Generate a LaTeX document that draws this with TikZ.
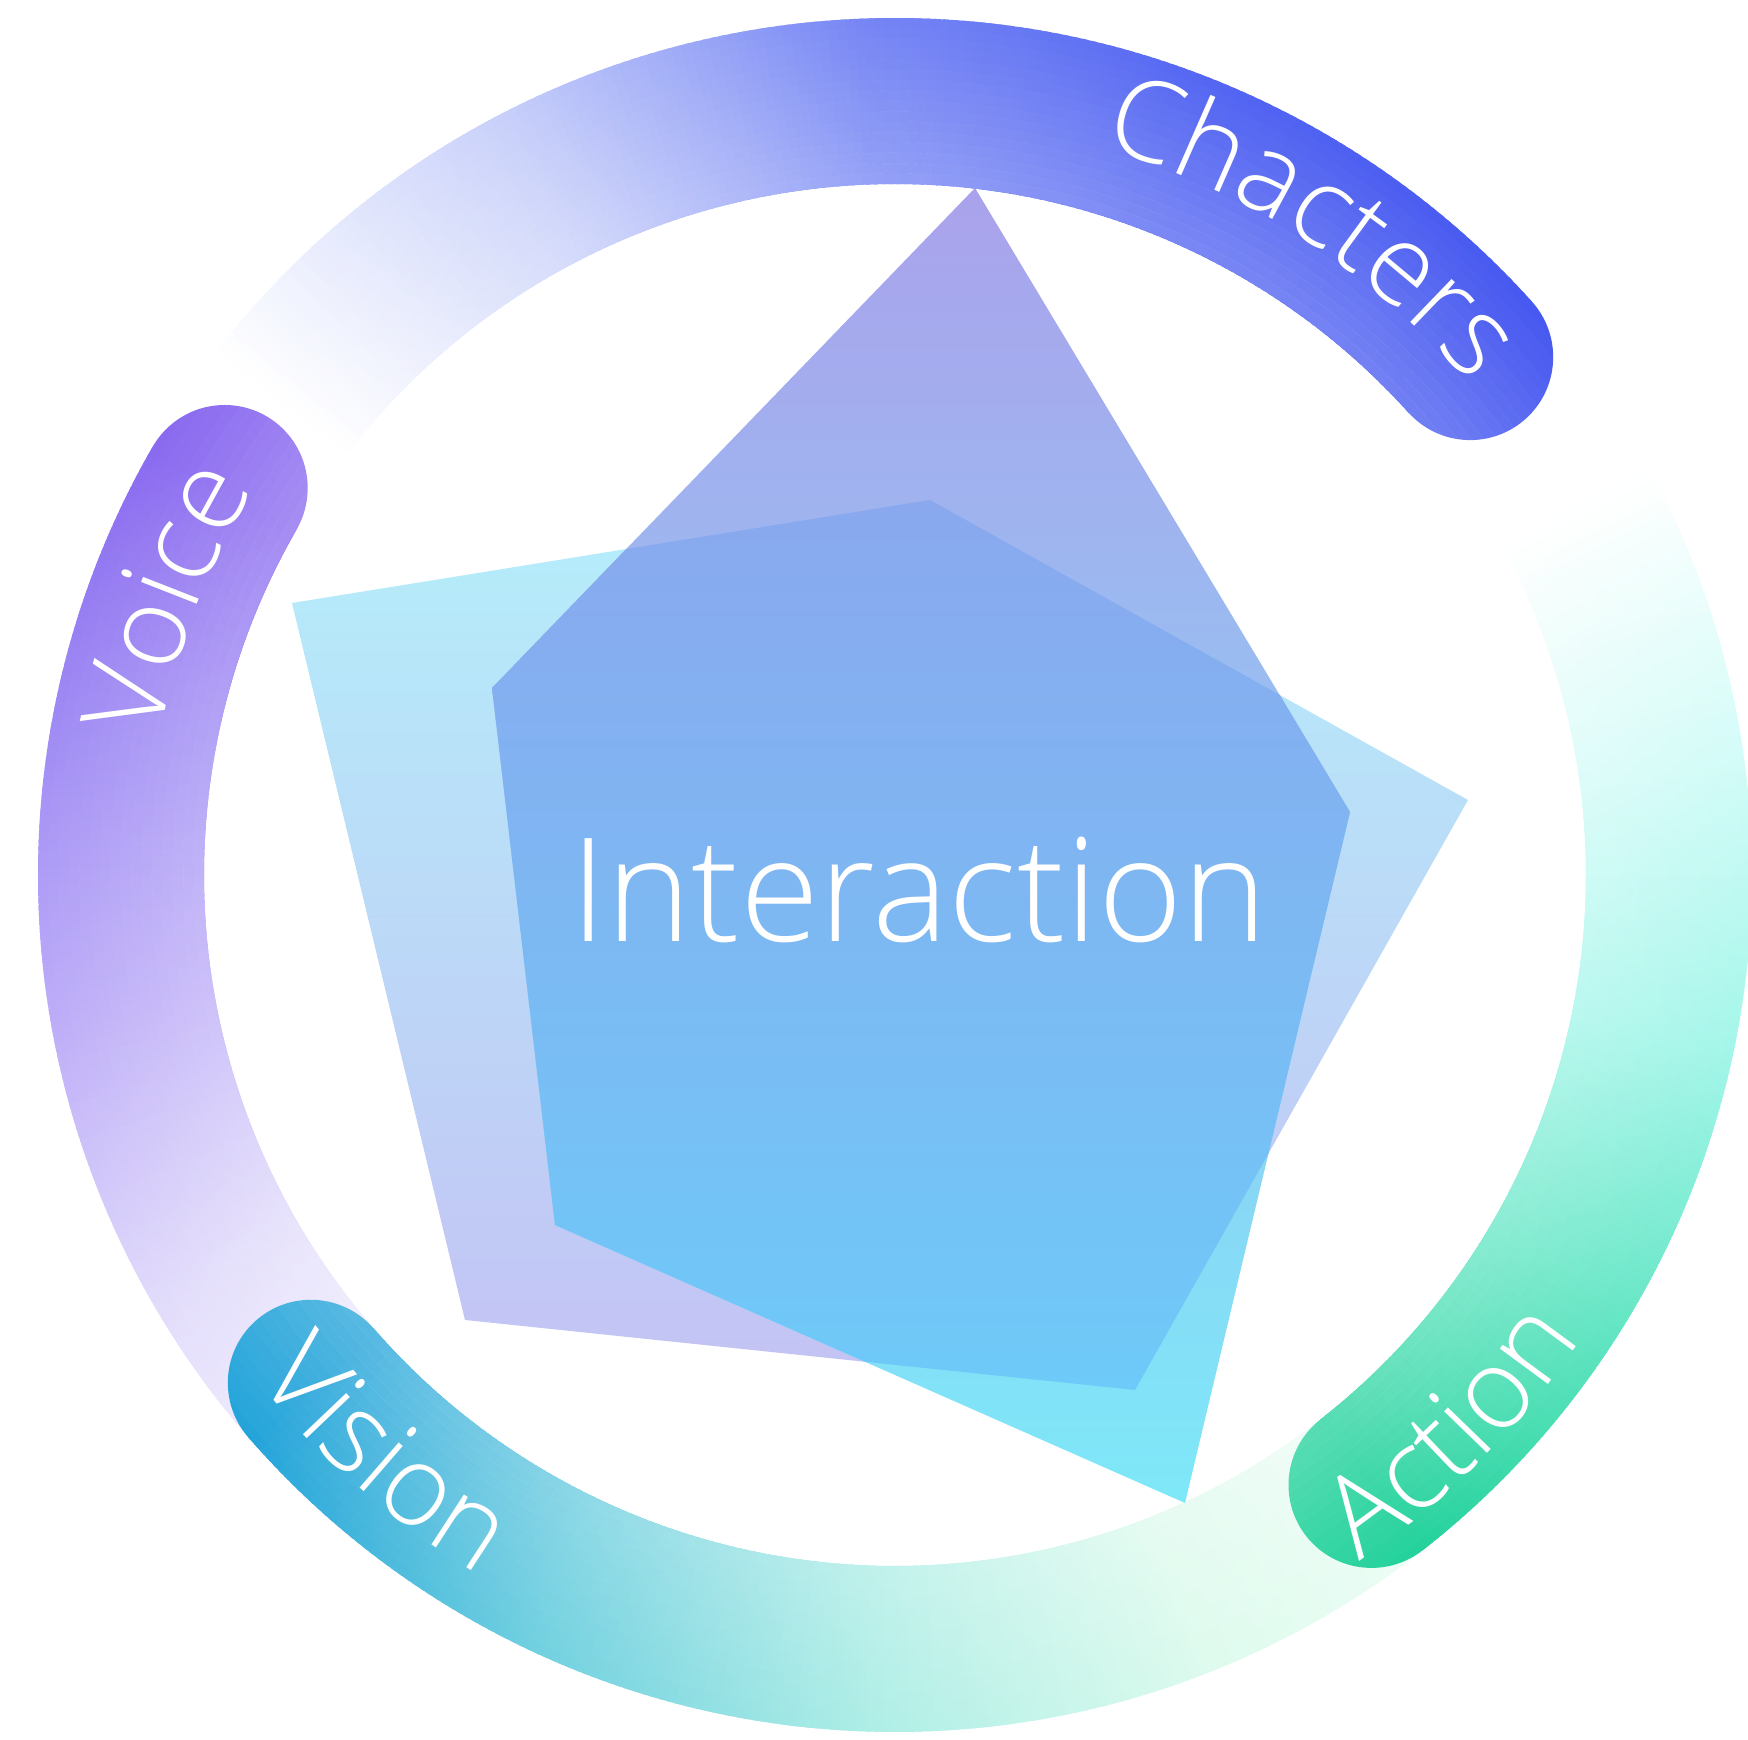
\documentclass[tikz,border=0pt]{standalone}
\usepackage{fontspec}
\usetikzlibrary{decorations.text}
\IfFontExistsTF{Open Sans Light}{%
  \newfontfamily\lightfont{Open Sans Light}\def\interxs{1.0}\def\ringsize{32}}{%
  \IfFontExistsTF{Lato Light}{%
    \newfontfamily\lightfont{Lato Light}\def\interxs{1.07}\def\ringsize{33}}{%
    \newfontfamily\lightfont{Liberation Sans}\def\interxs{1.0}\def\ringsize{30}}}
\newcommand\ringfont{\lightfont\fontsize{\ringsize}{36}\selectfont}
% ring colours
\definecolor{chA}{HTML}{4658F0}\definecolor{chB}{HTML}{5264F2}\definecolor{chC}{HTML}{7686F4}\definecolor{chD}{HTML}{C8D0FA}\definecolor{chE}{HTML}{FFFFFF}
\definecolor{voA}{HTML}{8A6AF0}\definecolor{voB}{HTML}{A08CF4}\definecolor{voC}{HTML}{BEAEF8}\definecolor{voD}{HTML}{E2DCFB}\definecolor{voE}{HTML}{F8F6FF}
\definecolor{viA}{HTML}{24A4DA}\definecolor{viB}{HTML}{70D0E0}\definecolor{viC}{HTML}{AEEEE6}\definecolor{viD}{HTML}{DEFBEE}\definecolor{viE}{HTML}{F4FEF8}
\definecolor{acA}{HTML}{24D29C}\definecolor{acB}{HTML}{64E6C4}\definecolor{acC}{HTML}{A4F6EA}\definecolor{acD}{HTML}{D4FCF8}\definecolor{acE}{HTML}{FFFFFF}
% pentagon colours
\definecolor{pOneTop}{HTML}{AAA2EC}\definecolor{pOneMid}{HTML}{A8B6F0}\definecolor{pOneBot}{HTML}{7EE8F8}
\definecolor{pTwoTop}{HTML}{B4EEFA}\definecolor{pTwoBot}{HTML}{C4C2F4}
\definecolor{ovTop}{HTML}{8AA8EE}\definecolor{ovBot}{HTML}{6ECAF8}
\tikzset{ringseg/.style={line width=1.66cm, line cap=butt},
  ringlabel/.style={decorate, decoration={text along path, text align=center, text color=white}}}
\def\Rc{7.74cm}
% #1 start angle, #2 span, #3..#7 colour stops
\newcommand\gradring[7]{%
  \fill[#3] (#1:\Rc) circle[radius=0.83cm];
  \foreach \k in {0,...,159}{%
    \pgfmathsetmacro\gsa{#1+#2*\k/160}%
    \pgfmathsetmacro\gsb{#1+#2*(\k+1)/160+0.4}%
    \pgfmathsetmacro\gpos{4*\k/160}%
    \pgfmathtruncatemacro\gidx{floor(\gpos)}%
    \pgfmathsetmacro\gfr{100*(\gpos-\gidx)}%
    \ifcase\gidx
      \colorlet{segc}{#4!\gfr!#3}%
    \or \colorlet{segc}{#5!\gfr!#4}%
    \or \colorlet{segc}{#6!\gfr!#5}%
    \or \colorlet{segc}{#7!\gfr!#6}%
    \fi
    \draw[ringseg, segc] (\gsa:\Rc) arc[start angle=\gsa, end angle=\gsb, radius=\Rc];
  }%
}
\begin{document}
\begin{tikzpicture}
\useasboundingbox (0,0) rectangle (17.48,17.40);
% pentagon corners
\coordinate (A1) at (9.75,15.52);
\coordinate (A2) at (13.50,9.28);
\coordinate (A3) at (11.85,2.37);
\coordinate (A4) at (5.55,5.15);
\coordinate (A5) at (4.92,10.52);
\coordinate (B1) at (2.92,11.37);
\coordinate (B2) at (9.30,12.40);
\coordinate (B3) at (14.68,9.40);
\coordinate (B4) at (11.35,3.50);
\coordinate (B5) at (4.65,4.20);
% ring
\begin{scope}[shift={(8.95,8.65)}]
  \gradring{42}{100}{chA}{chB}{chC}{chD}{chE}
  \gradring{150}{80}{voA}{voB}{voC}{voD}{voE}
  \gradring{221}{94}{viA}{viB}{viC}{viD}{viE}
  \gradring{308}{80}{acA}{acB}{acC}{acD}{acE}
  % lighter inner edge of the ring
  \foreach \j in {0,...,15}{%
    \pgfmathsetmacro\rr{6.91+0.104*(\j+0.5)}%
    \pgfmathsetmacro\oo{0.24*(1-(\j+0.5)/16)}%
    \draw[white, opacity=\oo, line width=0.105cm] (0,0) circle[radius=\rr cm];
  }
  \path[ringlabel, decoration={text={|\ringfont|Chacters}}]
    (90:7.56cm) arc[start angle=90, end angle=24.6, radius=7.56cm];
  \path[ringlabel, decoration={text={|\ringfont|Voice}}]
    (190:7.48cm) arc[start angle=190, end angle=128.4, radius=7.48cm];
  \path[ringlabel, decoration={text={|\ringfont|Vision}}]
    (200:8.14cm) arc[start angle=200, end angle=257.4, radius=8.14cm];
  \path[ringlabel, decoration={text={|\ringfont|Action}}]
    (290:8.28cm) arc[start angle=290, end angle=340, radius=8.28cm];
\end{scope}
% pentagons
\shade[top color=pTwoTop, bottom color=pTwoBot] (B1) -- (B2) -- (B3) -- (B4) -- (B5) -- cycle;
\shade[top color=pOneTop, middle color=pOneMid, bottom color=pOneBot] (A1) -- (A2) -- (A3) -- (A4) -- (A5) -- cycle;
\begin{scope}
  \clip (A1) -- (A2) -- (A3) -- (A4) -- (A5) -- cycle;
  \shade[top color=ovTop, bottom color=ovBot] (B1) -- (B2) -- (B3) -- (B4) -- (B5) -- cycle;
\end{scope}
\node[anchor=base, text=white, inner sep=0pt, xscale=\interxs, font=\lightfont\fontsize{41}{48}\selectfont] (inter) at (9.19,7.98) {Interaction};
\end{tikzpicture}
\end{document}
